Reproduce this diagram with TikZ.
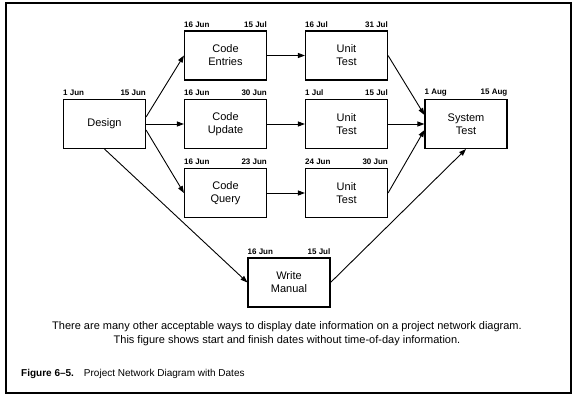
\documentclass[tikz,border=0pt]{standalone}
\usepackage{fontspec}
\setmainfont{Liberation Sans}
\usetikzlibrary{arrows.meta}
\begin{document}
\begin{tikzpicture}[x=1pt,y=-1pt,
  task/.style={draw, line width=1.1pt, minimum width=82pt, minimum height=49pt, inner sep=0pt, align=center, font=\fontsize{11}{13}\selectfont},
  dt/.style={font=\bfseries\fontsize{8}{9}\selectfont, inner sep=0pt},
  arr/.style={line width=0.9pt, -{Triangle[length=7pt,width=5pt]}}]
\useasboundingbox (0,0) rectangle (576,400);
\draw[line width=1.4pt] (6,3) rectangle (571,393);
% tasks
\node[task] (des) at (104.5,124) {Design};
\node[task] (ce) at (225.5,55.5) {Code\\Entries};
\node[task] (cu) at (225.5,124) {Code\\Update};
\node[task] (cq) at (225.5,193) {Code\\Query};
\node[task] (u1) at (346.5,55.5) {Unit\\Test};
\node[task] (u2) at (346.5,124) {Unit\\Test};
\node[task] (u3) at (346.5,193) {Unit\\Test};
\node[task] (st) at (466,124) {System\\Test};
\node[task] (wm) at (289,282.5) {Write\\Manual};
% dates
\foreach \n/\a/\b in {des/1 Jun/15 Jun, ce/16 Jun/15 Jul, cu/16 Jun/30 Jun, cq/16 Jun/23 Jun, u1/16 Jul/31 Jul, u2/1 Jul/15 Jul, u3/24 Jun/30 Jun, st/1 Aug/15 Aug, wm/16 Jun/15 Jul}{
  \node[dt, anchor=south west] (\n-s) at ([yshift=3pt]\n.north west) {\a};
  \node[dt, anchor=south east] (\n-f) at ([yshift=3pt]\n.north east) {\b};
}
% connectors
\draw[arr] ([yshift=7pt]des.east) -- (ce.west);
\draw[arr] (des.east) -- (cu.west);
\draw[arr] ([yshift=-6pt]des.east) -- (cq.west);
\draw[arr] (des.south) -- (wm.west);
\draw[arr] (ce.east) -- (u1.west);
\draw[arr] (cu.east) -- (u2.west);
\draw[arr] (cq.east) -- (u3.west);
\draw[arr] (u1.east) -- ([yshift=9pt]st.west);
\draw[arr] (u2.east) -- (st.west);
\draw[arr] (u3.east) -- ([yshift=-6pt]st.west);
\draw[arr] (wm.east) -- (st.south);
% texts
\node[font=\fontsize{11}{14}\selectfont, align=center] (note) at (287,334) {There are many other acceptable ways to display date information on a project network diagram.\\This figure shows start and finish dates without time-of-day information.};
\node[font=\fontsize{10}{12}\selectfont, anchor=west, inner sep=0pt] (cap) at (21,374) {\textbf{Figure 6–5.}\hspace{10pt}Project Network Diagram with Dates};
\end{tikzpicture}
\end{document}
